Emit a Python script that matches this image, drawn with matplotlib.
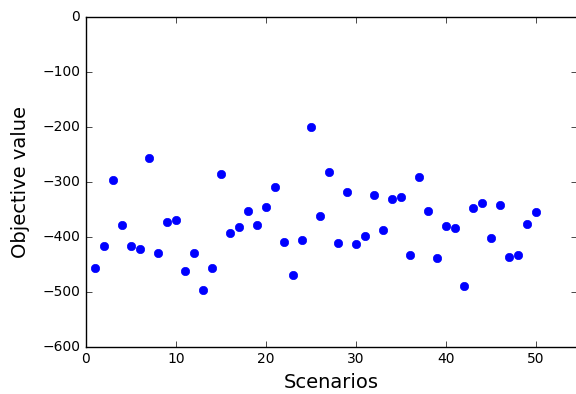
import matplotlib
matplotlib.use("Agg")
import matplotlib.pyplot as plt

plt.style.use("classic")

# scenario index and objective value for each scenario
scenarios = list(range(1, 51))
objective = [
    -456, -416, -297, -378, -416, -422, -257, -429, -373, -369,
    -462, -429, -497, -456, -285, -394, -383, -353, -378, -346,
    -309, -410, -470, -406, -200, -363, -283, -412, -318, -414,
    -398, -324, -388, -332, -328, -433, -291, -353, -439, -380,
    -384, -489, -347, -338, -403, -342, -437, -433, -377, -355,
]

fig = plt.figure(figsize=(5.76, 3.94), dpi=100, facecolor="white")
ax = fig.add_axes([0.149, 0.12, 0.852, 0.837])
ax.plot(scenarios, objective, "bo", markeredgecolor="b")

ax.set_xlim(0, 54.5)
ax.set_ylim(-600, 0)
ax.set_xticks([0, 10, 20, 30, 40, 50])
ax.set_yticks([0, -100, -200, -300, -400, -500, -600])
ax.tick_params(labelsize=10)
ax.set_xlabel("Scenarios", fontsize=14)
ax.set_ylabel("Objective value", fontsize=14, labelpad=9)

fig.savefig("out.png", dpi=100, facecolor="white")
